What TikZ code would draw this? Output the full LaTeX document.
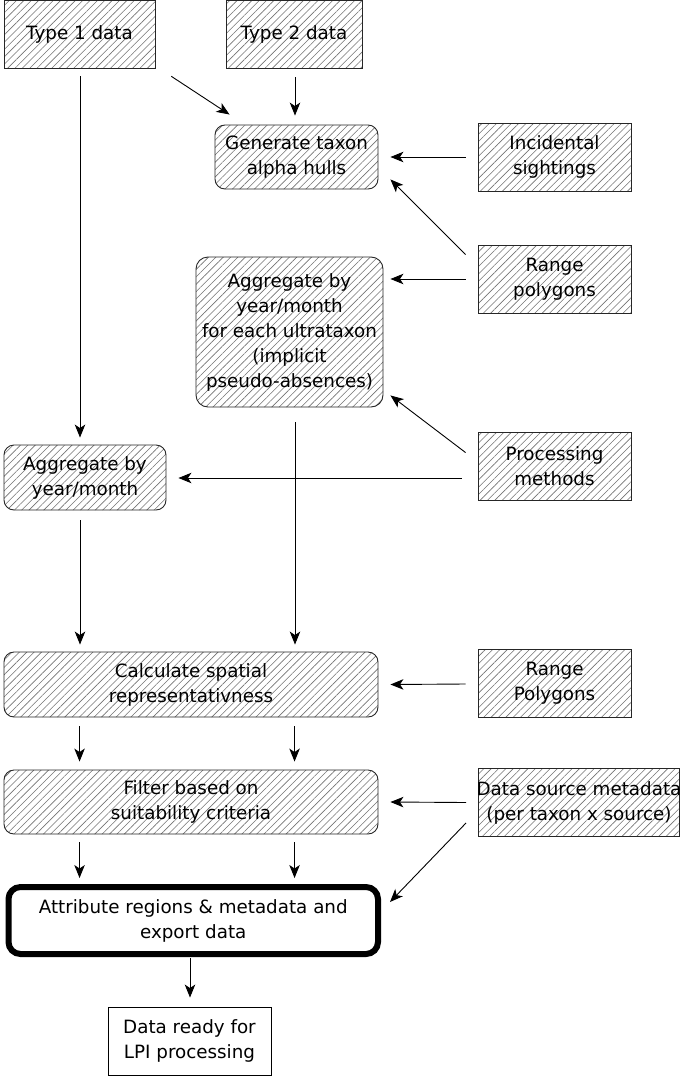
\documentclass[tikz,border=0pt]{standalone}
\usepackage{fontspec}
\setmainfont{DejaVu Sans}
\usetikzlibrary{patterns.meta,arrows.meta,calc}
\tikzset{
  hatch/.style={draw=black!85, line width=0.9pt,
    pattern={Lines[angle=45,distance=5.2pt,line width=0.6pt]}, pattern color=black!55,
    align=center, inner sep=0pt, font=\fontsize{18.3}{25}\selectfont},
  rbox/.style={hatch, rounded corners=10pt},
  plainbox/.style={draw=black, line width=0.9pt, fill=white, align=center, inner sep=0pt,
    font=\fontsize{18.3}{25}\selectfont},
  arr/.style={-{Stealth[length=13pt,width=10.5pt,inset=3.5pt]}, line width=0.9pt, draw=black}
}
\begin{document}
\begin{tikzpicture}[x=1pt,y=-1pt]
\useasboundingbox (0,0) rectangle (680,1076);
% nodes
\node[hatch, minimum width=151pt, minimum height=67.5pt] (t1) at (79.5,34.25) {Type 1 data};
\node[hatch, minimum width=136pt, minimum height=67.5pt] (t2) at (294,34.25) {Type 2 data};
\node[rbox, minimum width=163pt, minimum height=64pt] (gen) at (296.5,157) {Generate taxon\\alpha hulls};
\node[hatch, minimum width=153pt, minimum height=68pt] (inc) at (554.5,157) {Incidental\\sightings};
\node[hatch, minimum width=153pt, minimum height=68pt] (rp) at (554.5,279) {Range\\polygons};
\node[rbox, minimum width=187pt, minimum height=150pt, rounded corners=12pt] (agg2) at (289.5,332) {Aggregate by\\year/month\\for each ultrataxon\\(implicit\\pseudo-absences)};
\node[hatch, minimum width=153pt, minimum height=68pt] (pm) at (554.5,466) {Processing\\methods};
\node[rbox, minimum width=162pt, minimum height=65pt] (agg1) at (85,477.5) {Aggregate by\\year/month};
\node[rbox, minimum width=374pt, minimum height=65pt] (calc) at (191,684.5) {Calculate spatial\\representativness};
\node[hatch, minimum width=201pt, minimum height=68pt] (ds) at (579,802.5) {\makebox[0pt]{Data source metadata}\\\makebox[0pt]{(per taxon x source)}};
\node[hatch, minimum width=153pt, minimum height=68pt] (rp2) at (554.5,683) {Range\\Polygons};
\node[rbox, minimum width=374pt, minimum height=64pt] (filt) at (191,802) {Filter based on\\suitability criteria};
\node[plainbox, line width=6pt, rounded corners=12pt, minimum width=369.5pt, minimum height=67pt] (attr) at (193.25,920.5) {Attribute regions \& metadata and\\export data};
\node[plainbox, minimum width=163pt, minimum height=68pt] (ready) at (189.5,1041) {Data ready for\\LPI processing};
% connectors
\draw[arr] ($(t1.south east)+(16,8)$) -- ($(gen.north west)+(15,-10)$);
\draw[arr] ($(t2.south)+(1,9)$) -- ($(gen.north)+(-1.5,-9)$);
\draw[arr] ($(t1.south)+(0.5,8)$) -- ($(t1.south |- agg1.north)+(0.5,-7)$);
\draw[arr] ($(inc.west)+(-12,0)$) -- ($(gen.east)+(12,0)$);
\draw[arr] ($(rp.north west)+(-12,10)$) -- ($(gen.south east)+(12,-10)$);
\draw[arr] ($(rp.west)+(-12,0)$) -- ($(rp.west -| agg2.east)+(7,0)$);
\draw[arr] ($(pm.north west)+(-12,21)$) -- ($(agg2.south east)+(7,-12)$);
\draw[arr] ($(pm.west)+(-16,12)$) -- ($(agg1.east)+(12,0.5)$);
\draw[arr] ($(agg1.south)+(-5,10)$) -- ($(agg1.south |- calc.north)+(-5,-7)$);
\draw[arr] ($(agg2.south)+(5.5,15)$) -- ($(agg2.south |- calc.north)+(5.5,-7)$);
\draw[arr] ($(rp2.west)+(-12,1)$) -- ($(calc.east)+(12,0)$);
\draw[arr] ($(calc.south west)+(76,9)$) -- ($(calc.south west |- filt.north)+(76,-8)$);
\draw[arr] ($(calc.south west)+(291,9)$) -- ($(calc.south west |- filt.north)+(291,-8)$);
\draw[arr] ($(ds.west)+(-12,0)$) -- ($(filt.east)+(12,0)$);
\draw[arr] ($(ds.south west)+(-12,-14)$) -- ($(attr.north east)+(9,18)$);
\draw[arr] ($(filt.south west)+(76,8)$) -- ($(filt.south west |- attr.north)+(76,-6)$);
\draw[arr] ($(filt.south west)+(291,8)$) -- ($(filt.south west |- attr.north)+(291,-6)$);
\draw[arr] ($(attr.south)+(-3.25,1)$) -- ($(attr.south |- ready.north)+(-3.25,-9)$);
\end{tikzpicture}
\end{document}
